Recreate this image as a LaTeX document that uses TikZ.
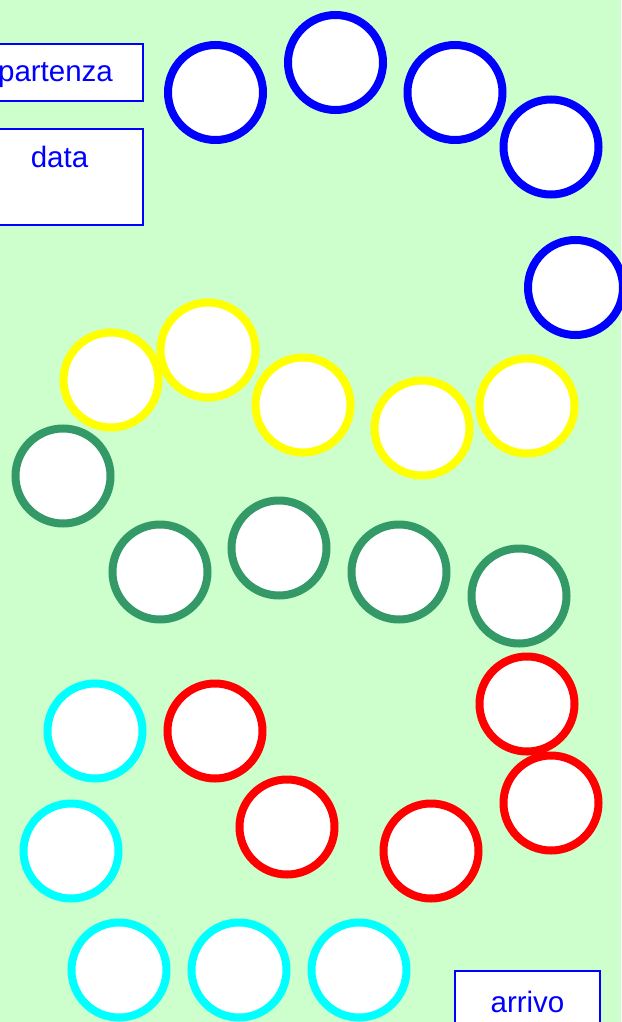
\documentclass[tikz,border=0pt]{standalone}
\usepackage{fontspec}
\setmainfont{Liberation Sans}
\definecolor{bg}{HTML}{CCFFCC}
\definecolor{sgreen}{HTML}{339966}
\definecolor{pblue}{HTML}{0000FF}
\definecolor{pyellow}{HTML}{FFFF00}
\definecolor{pred}{HTML}{FF0000}
\definecolor{pcyan}{HTML}{00FFFF}
\begin{document}
\begin{tikzpicture}[x=1pt,y=-1pt,
  spot/.style={circle,draw=#1,line width=8pt,fill=white,minimum size=95pt,inner sep=0pt},
  label/.style={draw=pblue,line width=2pt,fill=white,inner sep=0pt},
  plain/.style={text=pblue,font=\fontsize{29.5}{34}\selectfont,inner sep=0pt,anchor=base}]
\fill[bg] (0,0) rectangle (621,1022);
\useasboundingbox (0,0) rectangle (621,1022);
% boxes
\node[label,minimum width=180pt,minimum height=57pt] (partenza) at (53,72.5) {};
\node[plain] (partenzatxt) at (55.5,82) {partenza};
\node[label,minimum width=167pt,minimum height=96pt] (data) at (59.5,177) {};
\node[plain] (datatxt) at (59.5,167.5) {data};
\node[label,minimum width=145pt,minimum height=80pt] (arrivo) at (527.5,1011) {};
\node[plain] (arrivotxt) at (527.5,1012) {arrivo};
% blue
\node[spot=pblue] (b1) at (215.5,92.5) {};
\node[spot=pblue] (b2) at (335.5,62.5) {};
\node[spot=pblue] (b3) at (455,92.5) {};
\node[spot=pblue] (b4) at (551,147) {};
\node[spot=pblue] (b5) at (575.5,287.5) {};
% yellow
\node[spot=pyellow] (y1) at (111,380) {};
\node[spot=pyellow] (y2) at (208,350) {};
\node[spot=pyellow] (y3) at (303,405) {};
\node[spot=pyellow] (y4) at (422,428) {};
\node[spot=pyellow] (y5) at (527,406) {};
% green
\node[spot=sgreen] (g1) at (63,476) {};
\node[spot=sgreen] (g2) at (160,572) {};
\node[spot=sgreen] (g3) at (279,548) {};
\node[spot=sgreen] (g4) at (399,572) {};
\node[spot=sgreen] (g5) at (519,596) {};
% red
\node[spot=pred] (r1) at (527,704) {};
\node[spot=pred] (r2) at (551,803) {};
\node[spot=pred] (r3) at (431,851) {};
\node[spot=pred] (r4) at (287,827) {};
\node[spot=pred] (r5) at (215,731) {};
% cyan
\node[spot=pcyan] (c1) at (95,731) {};
\node[spot=pcyan] (c2) at (71,851) {};
\node[spot=pcyan] (c3) at (119,970) {};
\node[spot=pcyan] (c4) at (239,970) {};
\node[spot=pcyan] (c5) at (359,970) {};
\end{tikzpicture}
\end{document}
